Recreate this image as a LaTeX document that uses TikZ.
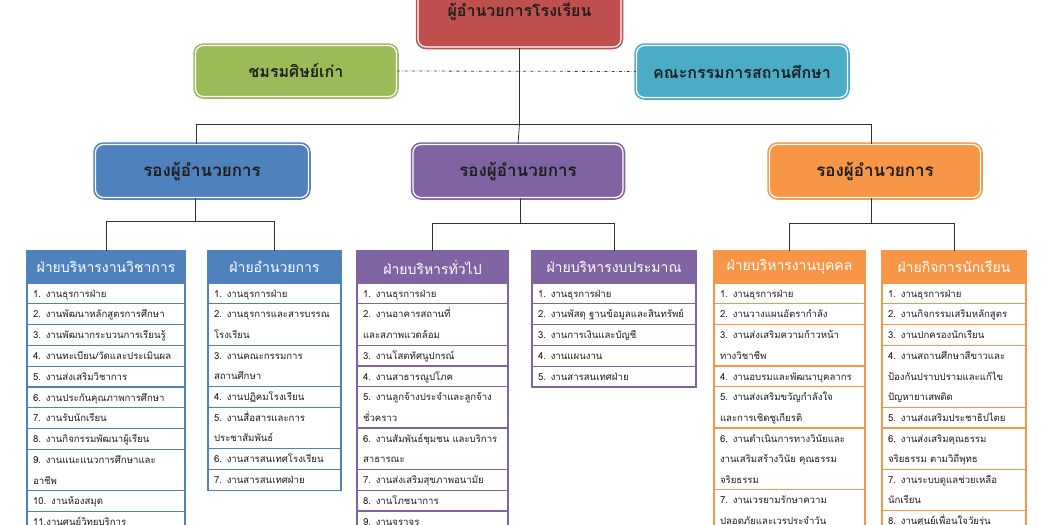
\documentclass[tikz,border=0pt]{standalone}
\usepackage{fontspec}
\setmainfont[Script=Thai]{Loma}
\usetikzlibrary{positioning}
\definecolor{offred}{HTML}{C0504D}
\definecolor{offgreen}{HTML}{9BBB59}
\definecolor{offteal}{HTML}{4BACC6}
\definecolor{offblue}{HTML}{4F81BD}
\definecolor{offpurple}{HTML}{8064A2}
\definecolor{offorange}{HTML}{F79646}
\definecolor{ink}{HTML}{1E1E1E}
\newcommand{\rowstrut}{\rule[-6.5pt]{0pt}{20.5pt}}
% one column: header + list of tasks
\newcommand{\divtable}[6]{%
  \pgfmathsetmacro\tw{#3-12}
  \node (#1-0) [head, fill=#4, draw=#4, minimum width=#3pt, anchor=north west] at (#2,251) {#5};
  \foreach \t [count=\i] in {#6} {
    \pgfmathtruncatemacro\j{\i-1}
    \node (#1-\i) [task, draw=#4, text width=\tw pt, below=0pt of #1-\j] {\t};
  }
}

\begin{document}
\begin{tikzpicture}[x=1pt,y=-1pt,
  officebox/.style={rounded corners=8pt, fill=#1, draw=white, line width=1.2pt,
    preaction={draw=#1, line width=4.5pt}, text=ink, inner sep=0pt},
  head/.style={text=white, font=\fontsize{14}{17}\selectfont, minimum height=32pt,
    inner sep=0pt, outer sep=0pt, line width=1.2pt},
  task/.style={fill=white, text=ink, font=\fontsize{9.6}{20.5}\selectfont, align=left,
    inner xsep=6pt, inner ysep=0.15pt, outer sep=0pt, line width=1.2pt,
    execute at begin node=\rowstrut, execute at end node=\rowstrut},
  link/.style={black!80, line width=0.8pt}]
  \useasboundingbox (0,0) rectangle (1050,525);
  \clip (0,0) rectangle (1050,525);

% top level
  \node (director) [officebox=offred, minimum width=203pt, minimum height=70pt,
    font=\fontsize{16}{18}\selectfont\bfseries] at (519.5,12) {ผู้อำนวยการโรงเรียน};
  \node (alumni) [officebox=offgreen, minimum width=201pt, minimum height=51pt,
    font=\fontsize{16}{18}\selectfont\bfseries] at (296,71) {ชมรมศิษย์เก่า};
  \node (board) [officebox=offteal, minimum width=211pt, minimum height=52pt,
    font=\fontsize{16}{18}\selectfont\bfseries] at (742,71.5) {คณะกรรมการสถานศึกษา};

% deputies
  \node (deputyA) [officebox=offblue, minimum width=213pt, minimum height=53pt,
    font=\fontsize{17}{20}\selectfont\bfseries] at (202,171) {รองผู้อำนวยการ};
  \node (deputyB) [officebox=offpurple, minimum width=210pt, minimum height=53pt,
    font=\fontsize{17}{20}\selectfont\bfseries] at (518,171) {รองผู้อำนวยการ};
  \node (deputyC) [officebox=offorange, minimum width=211pt, minimum height=53pt,
    font=\fontsize{17}{20}\selectfont\bfseries] at (875,171) {รองผู้อำนวยการ};

% divisions
  \divtable{tabA}{27}{158}{offblue}{ฝ่ายบริหารงานวิชาการ}{%
    {1. งานธุรการฝ่าย},{2. งานพัฒนาหลักสูตรการศึกษา},{3. งานพัฒนากระบวนการเรียนรู้},
    {4. งานทะเบียน/วัดและประเมินผล},{5. งานส่งเสริมวิชาการ},{6. งานประกันคุณภาพการศึกษา},
    {7. งานรับนักเรียน},{8. งานกิจกรรมพัฒนาผู้เรียน},{9. งานแนะแนวการศึกษาและ\\อาชีพ},
    {10. งานห้องสมุด},{11.งานศูนย์วิทยบริการ}}
  \divtable{tabB}{208}{133}{offblue}{ฝ่ายอำนวยการ}{%
    {1. งานธุรการฝ่าย},{2. งานธุรการและสารบรรณ\\โรงเรียน},{3. งานคณะกรรมการ\\สถานศึกษา},
    {4. งานปฏิคมโรงเรียน},{5. งานสื่อสารและการ\\ประชาสัมพันธ์},{6. งานสารสนเทศโรงเรียน},
    {7. งานสารสนเทศฝ่าย}}
  \divtable{tabC}{357}{151}{offpurple}{ฝ่ายบริหารทั่วไป}{%
    {1. งานธุรการฝ่าย},{2. งานอาคารสถานที่\\และสภาพแวดล้อม},{3. งานโสตทัศนูปกรณ์},
    {4. งานสาธารณูปโภค},{5. งานลูกจ้างประจำและลูกจ้าง\\ชั่วคราว},
    {6. งานสัมพันธ์ชุมชน และบริการ\\สาธารณะ},{7. งานส่งเสริมสุขภาพอนามัย},
    {8. งานโภชนาการ},{9. งานจราจร}}
  \divtable{tabD}{532}{164}{offpurple}{ฝ่ายบริหารงบประมาณ}{%
    {1. งานธุรการฝ่าย},{2. งานพัสดุ ฐานข้อมูลและสินทรัพย์},{3. งานการเงินและบัญชี},
    {4. งานแผนงาน},{5. งานสารสนเทศฝ่าย}}
  \divtable{tabE}{714}{151}{offorange}{ฝ่ายบริหารงานบุคคล}{%
    {1. งานธุรการฝ่าย},{2. งานวางแผนอัตรากำลัง},{3. งานส่งเสริมความก้าวหน้า\\ทางวิชาชีพ},
    {4. งานอบรมและพัฒนาบุคลากร},{5. งานส่งเสริมขวัญกำลังใจ\\และการเชิดชูเกียรติ},
    {6. งานดำเนินการทางวินัยและ\\งานเสริมสร้างวินัย คุณธรรม\\จริยธรรม},
    {7. งานเวรยามรักษาความ\\ปลอดภัยและเวรประจำวัน}}
  \divtable{tabF}{882}{144}{offorange}{ฝ่ายกิจการนักเรียน}{%
    {1. งานธุรการฝ่าย},{2. งานกิจกรรมเสริมหลักสูตร},{3. งานปกครองนักเรียน},
    {4. งานสถานศึกษาสีขาวและ\\ป้องกันปราบปรามและแก้ไข\\ปัญหายาเสพติด},
    {5. งานส่งเสริมประชาธิปไตย},{6. งานส่งเสริมคุณธรรม\\จริยธรรม ตามวิถีพุทธ},
    {7. งานระบบดูแลช่วยเหลือ\\นักเรียน},{8. งานศูนย์เพื่อนใจวัยรุ่น}}

% connectors: top
  \draw[dash dot, black!75, line width=0.8pt] (alumni.east) -- (board.west);
  \coordinate (busA) at (196,124);
  \coordinate (busC) at (871,124);
  \draw[link] (director.south) -- (director.south |- busA);
  \draw[link] (busA) -- (busC);
  \draw[link] (busA) -- (busA |- deputyA.north);
  \draw[link] (director.south |- busA) -- (deputyB.north);
  \draw[link] (busC) -- (busC |- deputyC.north);

% connectors: deputies to divisions
  \coordinate (jA) at (195,221);
  \coordinate (jB) at (520,223);
  \coordinate (jC) at (871,223);
  \draw[link] (jA |- deputyA.south) -- (jA);
  \draw[link] (tabA-0.north |- jA) -- (tabB-0.north |- jA);
  \draw[link] (tabA-0.north |- jA) -- (tabA-0.north);
  \draw[link] (tabB-0.north |- jA) -- (tabB-0.north);
  \draw[link] (jB |- deputyB.south) -- (jB);
  \draw[link] (tabC-0.north |- jB) -- (tabD-0.north |- jB);
  \draw[link] (tabC-0.north |- jB) -- (tabC-0.north);
  \draw[link] (tabD-0.north |- jB) -- (tabD-0.north);
  \draw[link] (jC |- deputyC.south) -- (jC);
  \draw[link] (tabE-0.north |- jC) -- (tabF-0.north |- jC);
  \draw[link] (tabE-0.north |- jC) -- (tabE-0.north);
  \draw[link] (tabF-0.north |- jC) -- (tabF-0.north);

\end{tikzpicture}
\end{document}
